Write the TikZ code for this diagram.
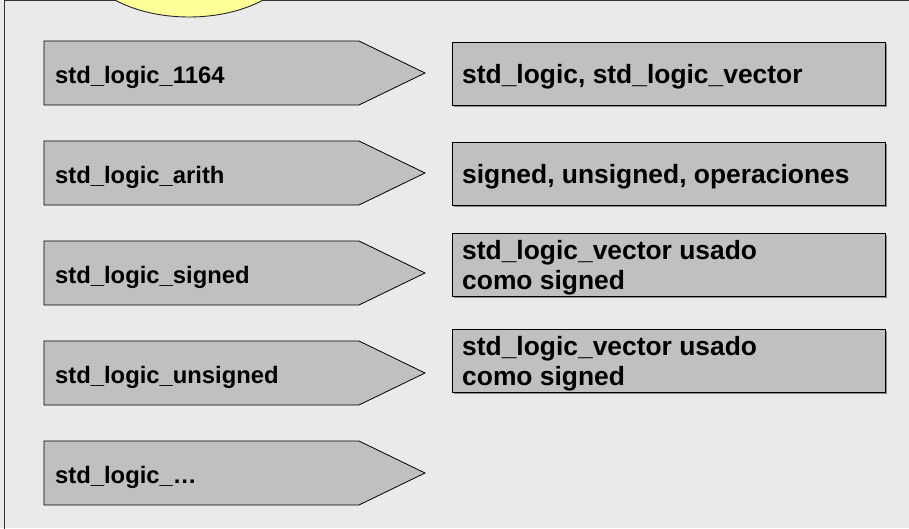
\documentclass[tikz,border=0pt]{standalone}
\usepackage{fontspec}
\setmainfont{Liberation Sans}
\definecolor{panel}{HTML}{EAEAEA}
\definecolor{boxg}{HTML}{C0C0C0}
\definecolor{yel}{HTML}{FFFF99}
\tikzset{
  arrowshape/.style={fill=boxg, draw=black, line width=0.8pt, line join=miter},
  lefttxt/.style={anchor=base west, inner sep=0pt, font=\fontsize{23.8}{28}\selectfont\bfseries},
  rbox/.style={fill=boxg, draw=black, line width=0.8pt, anchor=north west,
    minimum width=433pt, minimum height=63pt, inner sep=0pt,
    preaction={fill=black!45, transform canvas={shift={(1.5pt,-1.5pt)}}}},
  rtxt/.style={anchor=west, inner sep=0pt, align=left, font=\fontsize{26.4}{30}\selectfont\bfseries},
}
\begin{document}
\begin{tikzpicture}[x=1pt,y=-1pt]
\useasboundingbox (0,0) rectangle (909,528);
\clip (0,0) rectangle (909,528);
\fill[panel] (0,0) rectangle (909,528);
\draw[line width=1.3pt, draw=black!80] (4.5,0.7) rectangle (930,560);
\draw[fill=yel, draw=black!85, line width=0.9pt] (189,-48) ellipse [x radius=110pt, y radius=65pt];
% left pentagon arrows
\foreach \i/\t [count=\k] in {0/std\_logic\_1164, 1/std\_logic\_arith, 2/std\_logic\_signed, 3/std\_logic\_unsigned, 4/std\_logic\_\ldots}{
  \pgfmathsetmacro{\top}{41+100*\i}
  \coordinate (a\k nw) at (44,\top);
  \coordinate (a\k tip) at (425,\top+32);
  \draw[arrowshape] (a\k nw) -- (359,\top) -- (a\k tip) -- (359,\top+64) -- (44,\top+64) -- cycle;
  \node[lefttxt] (t\k) at (55,\top+42) {\t};
}
% right boxes
\node[rbox] (r1) at (452,42) {};
\node[rbox] (r2) at (452,142) {};
\node[rbox] (r3) at (452,233) {};
\node[rbox] (r4) at (452,329) {};
\node[rtxt] (s1) at ([xshift=10pt,yshift=-3pt]r1.west) {std\_logic, std\_logic\_vector};
\node[rtxt] (s2) at ([xshift=10pt,yshift=-3pt]r2.west) {signed, unsigned, operaciones};
\node[rtxt] (s3) at ([xshift=10pt,yshift=-3pt]r3.west) {std\_logic\_vector usado\\como signed};
\node[rtxt] (s4) at ([xshift=10pt,yshift=-3pt]r4.west) {std\_logic\_vector usado\\como signed};
\end{tikzpicture}
\end{document}
